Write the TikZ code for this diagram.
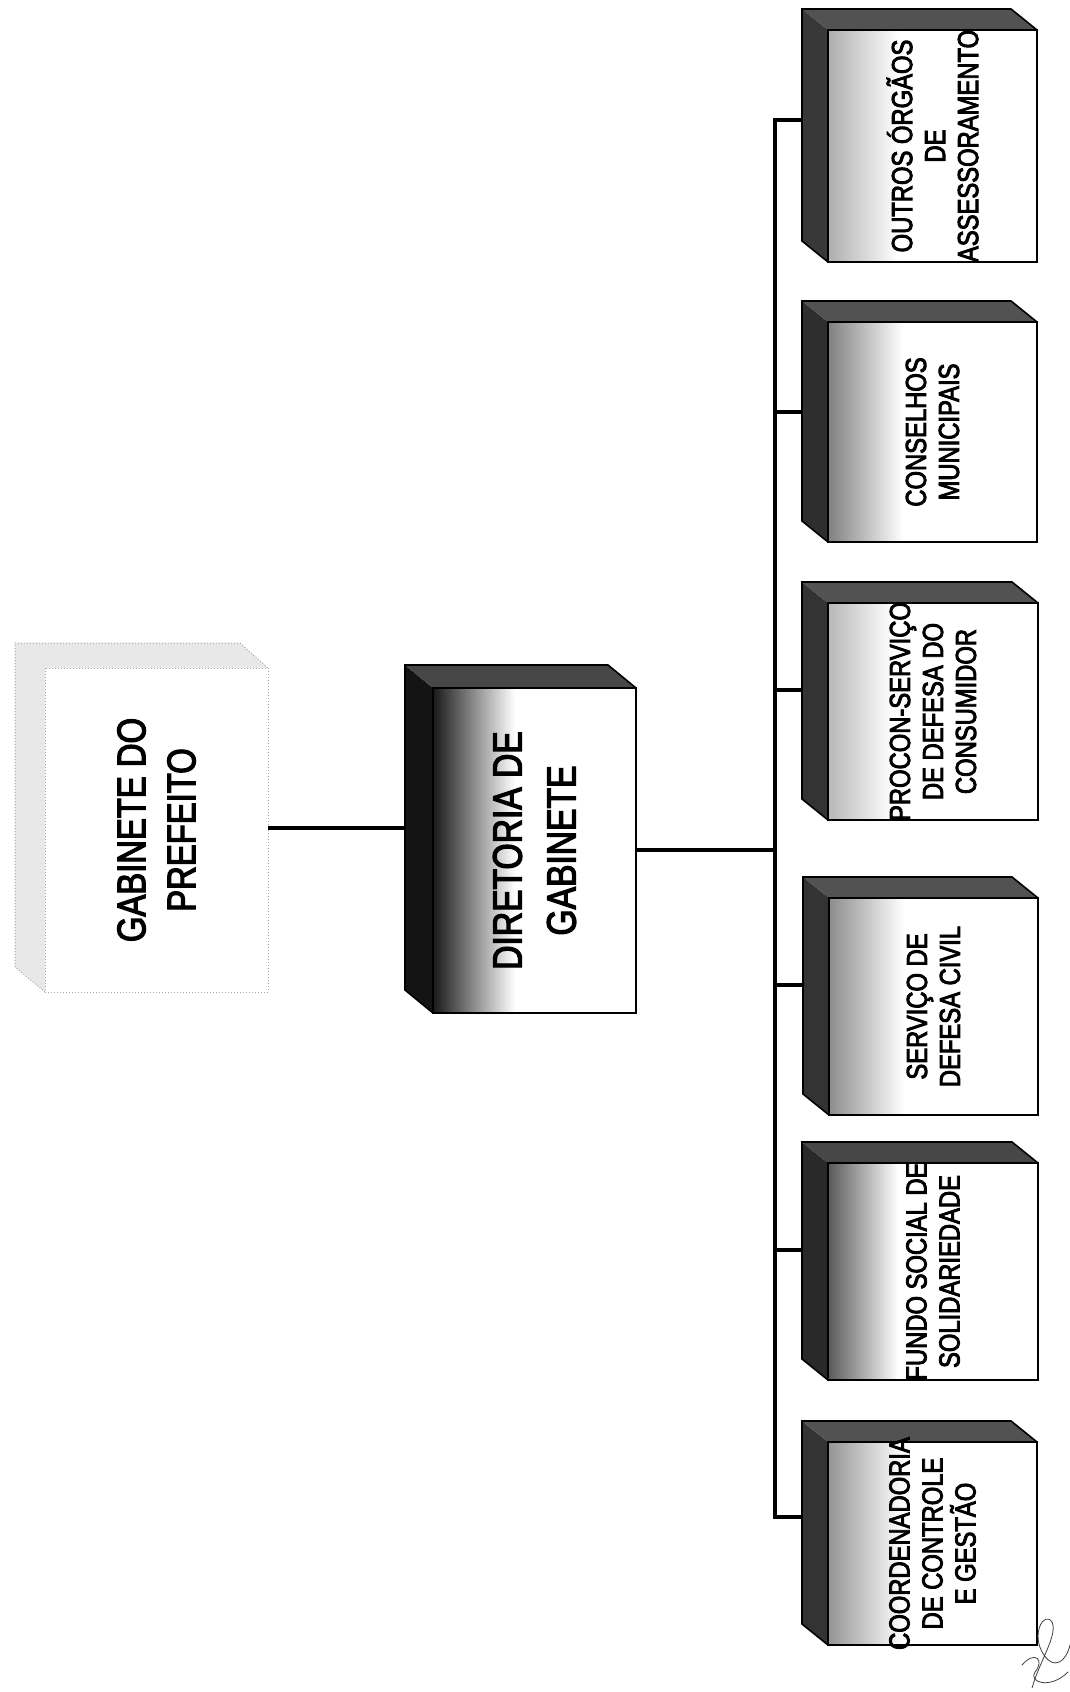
\documentclass[tikz,border=0pt]{standalone}
\usepackage{fontspec}
\setmainfont{Liberation Sans}
\newfontfamily\narrowfont[FakeStretch=0.82,FakeBold=3]{Liberation Sans}
\usetikzlibrary{fit,calc}

\tikzset{
  conn/.style={line width=3.4pt, black},
  outline/.style={line width=1.6pt, black, line join=miter},
  frontbox/.style={rectangle, inner sep=0pt, draw=none},
  lbl/.style={rotate=90, align=center, inner sep=0pt, text=black,
    font=\narrowfont\fontsize{29}{33}\selectfont},
  biglbl/.style={rotate=90, align=center, inner sep=0pt, text=black,
    font=\narrowfont\fontsize{41}{54}\selectfont},
  gablbl/.style={rotate=90, align=center, inner sep=0pt, text=black,
    font=\narrowfont\fontsize{40}{50}\selectfont}
}

% #1 name, #2 x1, #3 y1, #4 x2, #5 y2 (front face), #6 side colour, #7 top colour, #8 shade colour, #9 shade width
\newcommand\orgcube[9]{%
  \fill[#6] (#2,#3) -- (#2-26,#3-21) -- (#2-26,#5-21) -- (#2,#5) -- cycle;
  \fill[#7] (#2,#3) -- (#2-26,#3-21) -- (#4-26,#3-21) -- (#4,#3) -- cycle;
  \fill[white] (#2,#3) rectangle (#4,#5);
  \shade[left color=#8, right color=white] (#2,#3) rectangle (#2+#9,#5);
  \draw[outline] (#2,#3) rectangle (#4,#5);
  \draw[outline] (#2,#5) -- (#2-26,#5-21) -- (#2-26,#3-21) -- (#4-26,#3-21) -- (#4,#3);
  \coordinate (#1-a) at (#2,#3);
  \coordinate (#1-b) at (#4,#5);
  \node[frontbox, fit=(#1-a)(#1-b)] (#1) {};
}

\begin{document}
\begin{tikzpicture}[x=1pt,y=-1pt]
\useasboundingbox (0,0) rectangle (1070,1692);
\fill[white] (0,0) rectangle (1070,1692);

% ---- Gabinete do Prefeito (faint box)
\fill[black!9] (45,668) -- (15,643) -- (15,967) -- (45,992) -- cycle;
\fill[black!9] (45,668) -- (15,643) -- (240,643) -- (268,668) -- cycle;
\draw[black!35, dotted, line width=1pt] (45,668) rectangle (268,992);
\draw[black!35, dotted, line width=1pt] (45,992) -- (15,967) -- (15,643) -- (240,643) -- (268,668);
\coordinate (gab-a) at (45,668);
\coordinate (gab-b) at (268,992);
\node[frontbox, fit=(gab-a)(gab-b)] (gab) {};
\node[gablbl] (gab-t) at (gab) {GABINETE DO\\PREFEITO};

% ---- Diretoria de Gabinete
\fill[black!92] (433,688) -- (405,665) -- (405,990) -- (433,1013) -- cycle;
\fill[black!72] (433,688) -- (405,665) -- (608,665) -- (636,688) -- cycle;
\fill[white] (433,688) rectangle (636,1013);
\shade[left color=black!90, right color=white] (433,688) rectangle (515,1013);
\draw[outline] (433,688) rectangle (636,1013);
\draw[outline] (433,1013) -- (405,990) -- (405,665) -- (608,665) -- (636,688);
\coordinate (dir-a) at (433,688);
\coordinate (dir-b) at (636,1013);
\node[frontbox, fit=(dir-a)(dir-b)] (dir) {};
\node[biglbl] (dir-t) at (dir) {DIRETORIA DE\\GABINETE};

% ---- Right-hand boxes
\orgcube{outros}{828}{30}{1037}{262}{black!78}{black!68}{black!32}{70}
\orgcube{cons}{828}{322}{1037}{542}{black!82}{black!68}{black!50}{75}
\orgcube{procon}{828}{603}{1038}{820}{black!80}{black!68}{black!28}{65}
\orgcube{serv}{829}{898}{1038}{1115}{black!80}{black!68}{black!45}{75}
\orgcube{fundo}{828}{1163}{1038}{1380}{black!84}{black!72}{black!65}{70}
\orgcube{coord}{828}{1442}{1037}{1645}{black!80}{black!68}{black!42}{75}

\node[lbl] (outros-t) at (outros) {OUTROS ÓRGÃOS\\DE\\ASSESSORAMENTO};
\node[lbl] (cons-t) at (cons) {CONSELHOS\\MUNICIPAIS};
\node[lbl] (procon-t) at (procon) {PROCON-SERVIÇO\\DE DEFESA DO\\CONSUMIDOR};
\node[lbl] (serv-t) at (serv) {SERVIÇO DE\\DEFESA CIVIL};
\node[lbl] (fundo-t) at (fundo) {FUNDO SOCIAL DE\\SOLIDARIEDADE};
\node[lbl] (coord-t) at (coord) {COORDENADORIA\\DE CONTROLE\\E GESTÃO};

% ---- Connectors
\coordinate (busx) at (775,0);
\draw[conn] (gab.east |- 0,828) -- ($(dir.west |- 0,828)+(-28,0)$);
\draw[conn] (dir.east |- 0,850) -- (busx |- 0,850);
\draw[conn] ($(outros.north west)+(-26,90)$) coordinate (b1) -- (b1 -| busx) coordinate (bt);
\draw[conn] ($(cons.north west)+(-26,90)$) coordinate (b2) -- (b2 -| busx);
\draw[conn] ($(procon.north west)+(-26,87)$) coordinate (b3) -- (b3 -| busx);
\draw[conn] ($(serv.north west)+(-27,87)$) coordinate (b4) -- (b4 -| busx);
\draw[conn] ($(fundo.north west)+(-26,87)$) coordinate (b5) -- (b5 -| busx);
\draw[conn] ($(coord.north west)+(-26,75)$) coordinate (b6) -- (b6 -| busx) coordinate (bb);
\draw[conn, line cap=rect] (bt) -- (bb);

% ---- signature scribble
\draw[black!75, line width=0.8pt, line cap=round]
  (1032,1688) .. controls (1040,1660) and (1058,1635) .. (1052,1622)
  .. controls (1044,1610) and (1030,1635) .. (1044,1655)
  .. controls (1054,1670) and (1066,1662) .. (1070,1645);
\draw[black!75, line width=0.8pt, line cap=round]
  (1022,1665) .. controls (1035,1650) and (1045,1660) .. (1035,1672)
  .. controls (1028,1682) and (1050,1690) .. (1068,1672);
\end{tikzpicture}
\end{document}
